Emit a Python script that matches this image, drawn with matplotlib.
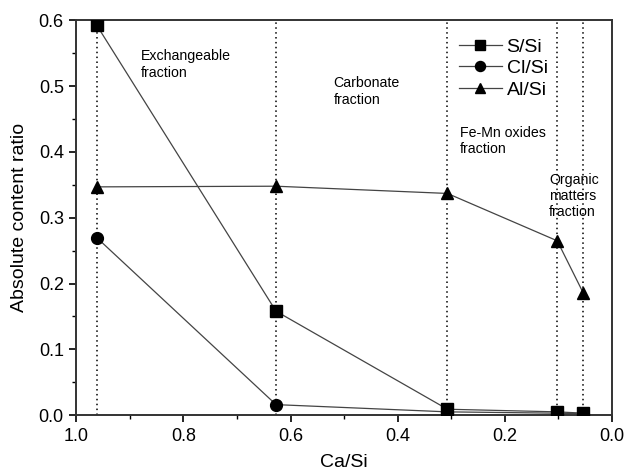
import matplotlib
matplotlib.use("Agg")
import matplotlib.pyplot as plt

plt.rcParams['font.family'] = ['Liberation Sans', 'DejaVu Sans']

# Ca/Si of each extraction step
ca_si = [0.962, 0.627, 0.307, 0.102, 0.053]
s_si = [0.593, 0.158, 0.009, 0.005, 0.003]
cl_si = [0.270, 0.016, 0.005, 0.003, 0.002]
al_si = [0.347, 0.348, 0.337, 0.265, 0.185]

labels = ["Exchangeable\nfraction", "Carbonate\nfraction", "Fe-Mn oxides\nfraction",
          "Organic\nmatters\nfraction"]
label_pos = [(0.88, 0.556), (0.52, 0.515), (0.283, 0.44), (0.117, 0.368)]

fig = plt.figure(figsize=(6.25, 4.75), dpi=100)
ax = fig.add_axes([0.122, 0.126, 0.857, 0.831])

ax.vlines(ca_si, 0, 0.6, colors='black', linestyles=(0, (1, 2.2)), linewidth=1.1, zorder=1)

line_kw = dict(color='#444444', linewidth=0.9, markerfacecolor='black', markeredgecolor='black',
               zorder=3)
ax.plot(ca_si, s_si, marker='s', markersize=8, label='S/Si', **line_kw)
ax.plot(ca_si, cl_si, marker='o', markersize=8.5, label='Cl/Si', **line_kw)
ax.plot(ca_si, al_si, marker='^', markersize=9, label='Al/Si', **line_kw)

for txt, (x, y) in zip(labels, label_pos):
    ax.text(x, y, txt, fontsize=10.2, ha='left', va='top', linespacing=1.2)

ax.set_xlim(1.0, 0.0)
ax.set_ylim(0, 0.6)
ax.set_xticks([1.0, 0.8, 0.6, 0.4, 0.2, 0.0])
ax.set_xticks([0.9, 0.7, 0.5, 0.3, 0.1], minor=True)
ax.set_yticks([0.0, 0.1, 0.2, 0.3, 0.4, 0.5, 0.6])
ax.set_yticks([0.05, 0.15, 0.25, 0.35, 0.45, 0.55], minor=True)
ax.tick_params(which='major', direction='out', length=5, width=1.2, labelsize=13, pad=4)
ax.tick_params(which='minor', direction='out', length=3, width=1.0)
for sp in ax.spines.values():
    sp.set_linewidth(1.4)
    sp.set_color('#333333')

ax.set_xlabel('Ca/Si', fontsize=14, labelpad=7)
ax.set_ylabel('Absolute content ratio', fontsize=14, labelpad=8)

ax.legend(loc='upper left', bbox_to_anchor=(0.70, 0.975), frameon=False, fontsize=14,
          handlelength=2.2, handletextpad=0.25, labelspacing=0.2, borderaxespad=0,
          markerscale=0.85)

fig.savefig('out.png', dpi=100)
